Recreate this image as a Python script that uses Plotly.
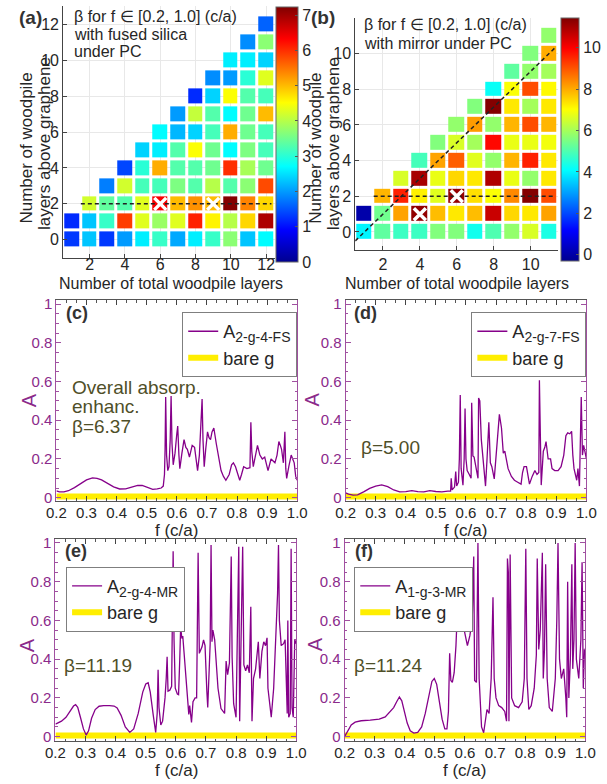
import plotly.graph_objects as go

W, H = 607, 784

# ---------------- data ----------------
# (a) beta, fused silica under PC: one list per number of total woodpile layers (1..12),
#     entry i = number of woodpile layers above graphene (0..N)
total_fs = list(range(1, 13))
beta_fs = [
    [1.3, 1.2],
    [2.3, 2.3, 4.2],
    [1.3, 3.1, 3.4, 1.8],
    [2.0, 5.9, 3.3, 4.2, 1.4],
    [2.6, 4.3, 4.3, 3.2, 3.0, 2.4],
    [3.1, 3.8, 6.37, 3.2, 5.1, 2.6, 2.7],
    [2.1, 4.3, 5.0, 3.6, 3.3, 3.3, 2.2, 2.0],
    [2.6, 6.1, 5.3, 3.3, 3.3, 4.5, 2.4, 4.1, 1.2],
    [3.1, 4.6, 5.00, 4.0, 3.5, 3.5, 3.2, 3.3, 2.4, 1.9],
    [3.7, 4.0, 7.2, 3.3, 6.0, 2.7, 5.1, 2.7, 4.5, 2.0, 2.6],
    [2.3, 4.8, 5.4, 3.7, 3.9, 3.6, 3.5, 3.5, 3.3, 3.0, 2.6, 1.9],
    [2.7, 6.9, 4.8, 5.8, 3.5, 3.2, 3.2, 5.0, 3.2, 4.3, 2.4, 3.7, 1.6],
]
# (b) beta, mirror under PC (1..11 total layers)
total_mr = list(range(1, 12))
beta_mr = [
    [4.0, 0.05],
    [5.2, 5.4, 7.9],
    [4.8, 8.1, 9.6, 6.6],
    [4.8, 11.24, 7.2, 11.0, 4.9],
    [5.6, 7.8, 6.7, 6.8, 8.1, 5.6],
    [5.6, 7.3, 11.19, 7.5, 8.9, 6.6, 5.8],
    [4.3, 7.8, 7.4, 7.3, 6.7, 6.0, 8.2, 5.6],
    [5.0, 10.6, 7.0, 10.9, 5.8, 9.9, 5.8, 11.4, 4.2],
    [5.8, 7.5, 8.4, 6.8, 7.9, 6.8, 7.9, 7.3, 7.0, 5.2],
    [6.6, 7.3, 11.4, 5.8, 9.6, 6.8, 9.1, 6.0, 9.1, 5.8, 5.6],
    [4.4, 8.1, 9.1, 7.3, 7.3, 6.9, 7.9, 7.3, 7.1, 6.0, 8.0, 5.8],
]
marked_fs_total = [6, 9]
marked_fs_above = [2, 2]
marked_mr_total = [4, 6]
marked_mr_above = [1, 2]
guide_row = 2
cbar_fs_range = [0, 7.23]
cbar_mr_range = [-0.3, 11.45]
cbar_fs_ticks = [0, 1, 2, 3, 4, 5, 6, 7]
cbar_mr_ticks = [0, 2, 4, 6, 8, 10]
hm_fs_xticks = [2, 4, 6, 8, 10, 12]
hm_fs_yticks = [0, 2, 4, 6, 8, 10, 12]
hm_mr_xticks = [2, 4, 6, 8, 10]
hm_mr_yticks = [0, 2, 4, 6, 8, 10]

freq_ticks = [0.2, 0.3, 0.4, 0.5, 0.6, 0.7, 0.8, 0.9, 1.0]
A_ticks = [0, 0.2, 0.4, 0.6, 0.8, 1.0]
A_tick_text = ["0", "0.2", "0.4", "0.6", "0.8", "1"]

bare_g_f = [0.2, 1.0]
bare_g_A = [0.006, 0.006]

curve_c = [(0.200,0.035),(0.210,0.030),(0.225,0.030),(0.240,0.036),(0.260,0.052),(0.280,0.072),(0.300,0.092),(0.320,0.102),(0.335,0.100),(0.350,0.092),(0.370,0.073),(0.390,0.056),(0.410,0.045),(0.430,0.046),(0.450,0.055),(0.470,0.064),(0.485,0.063),(0.500,0.055),(0.520,0.043),(0.535,0.045),(0.548,0.050),(0.555,0.060),(0.559,0.120),(0.561,0.250),(0.563,0.520),(0.566,0.220),(0.570,0.140),(0.574,0.160),(0.578,0.300),(0.581,0.525),(0.584,0.280),(0.588,0.170),(0.594,0.230),(0.600,0.330),(0.603,0.370),(0.607,0.220),(0.610,0.150),(0.617,0.230),(0.624,0.300),(0.630,0.260),(0.635,0.250),(0.642,0.210),(0.651,0.270),(0.659,0.260),(0.664,0.200),(0.669,0.140),(0.675,0.220),(0.680,0.350),(0.684,0.510),(0.687,0.300),(0.691,0.160),(0.696,0.250),(0.702,0.340),(0.707,0.310),(0.712,0.300),(0.717,0.340),(0.723,0.360),(0.731,0.280),(0.740,0.190),(0.747,0.140),(0.755,0.110),(0.763,0.090),(0.774,0.120),(0.782,0.170),(0.788,0.180),(0.795,0.160),(0.803,0.120),(0.809,0.090),(0.815,0.120),(0.822,0.160),(0.833,0.150),(0.843,0.155),(0.846,0.390),(0.849,0.240),(0.854,0.160),(0.861,0.220),(0.868,0.270),(0.876,0.220),(0.884,0.200),(0.892,0.210),(0.898,0.170),(0.903,0.140),(0.913,0.200),(0.920,0.190),(0.926,0.180),(0.933,0.220),(0.939,0.290),(0.944,0.270),(0.948,0.250),(0.954,0.180),(0.959,0.340),(0.962,0.150),(0.965,0.100),(0.972,0.160),(0.980,0.220),(0.985,0.200),(0.990,0.180),(0.995,0.110),(1.000,0.090)]

curve_d = [(0.200,0.025),(0.210,0.018),(0.225,0.013),(0.240,0.015),(0.260,0.030),(0.280,0.048),(0.300,0.060),(0.320,0.066),(0.340,0.057),(0.360,0.040),(0.380,0.030),(0.400,0.031),(0.420,0.036),(0.440,0.031),(0.460,0.030),(0.480,0.036),(0.500,0.032),(0.520,0.030),(0.540,0.034),(0.549,0.034),(0.551,0.100),(0.554,0.040),(0.562,0.055),(0.566,0.135),(0.569,0.060),(0.575,0.080),(0.578,0.200),(0.581,0.530),(0.584,0.150),(0.590,0.065),(0.594,0.200),(0.597,0.460),(0.600,0.200),(0.604,0.140),(0.611,0.120),(0.617,0.100),(0.619,0.490),(0.623,0.216),(0.627,0.210),(0.634,0.150),(0.640,0.100),(0.642,0.515),(0.646,0.500),(0.651,0.300),(0.659,0.140),(0.665,0.060),(0.670,0.200),(0.676,0.390),(0.681,0.180),(0.686,0.160),(0.694,0.097),(0.702,0.250),(0.707,0.380),(0.711,0.430),(0.718,0.360),(0.724,0.230),(0.729,0.240),(0.734,0.200),(0.740,0.150),(0.751,0.110),(0.761,0.090),(0.772,0.080),(0.783,0.070),(0.788,0.130),(0.793,0.160),(0.801,0.160),(0.807,0.115),(0.811,0.070),(0.820,0.110),(0.829,0.140),(0.836,0.120),(0.842,0.130),(0.844,0.607),(0.847,0.200),(0.850,0.065),(0.857,0.240),(0.862,0.260),(0.866,0.290),(0.873,0.200),(0.881,0.200),(0.886,0.150),(0.895,0.140),(0.906,0.140),(0.916,0.160),(0.925,0.220),(0.932,0.320),(0.938,0.335),(0.945,0.330),(0.951,0.343),(0.955,0.220),(0.959,0.150),(0.968,0.090),(0.972,0.150),(0.977,0.060),(0.983,0.520),(0.987,0.220),(0.991,0.270),(0.995,0.240),(1.000,0.200)]

curve_e = [(0.200,0.065),(0.210,0.072),(0.220,0.080),(0.235,0.100),(0.250,0.135),(0.260,0.158),(0.267,0.165),(0.274,0.152),(0.283,0.100),(0.293,0.040),(0.302,0.008),(0.310,0.030),(0.320,0.095),(0.332,0.140),(0.345,0.157),(0.360,0.160),(0.380,0.160),(0.395,0.158),(0.405,0.148),(0.418,0.110),(0.432,0.050),(0.447,0.022),(0.460,0.040),(0.475,0.120),(0.490,0.230),(0.500,0.272),(0.508,0.278),(0.515,0.230),(0.525,0.110),(0.533,0.022),(0.538,0.120),(0.541,0.345),(0.544,0.150),(0.550,0.060),(0.556,0.080),(0.564,0.200),(0.568,0.300),(0.571,0.413),(0.574,0.235),(0.580,0.240),(0.586,0.260),(0.589,0.600),(0.591,0.957),(0.594,0.500),(0.598,0.250),(0.605,0.220),(0.609,0.217),(0.613,0.400),(0.616,0.566),(0.620,0.507),(0.623,0.520),(0.627,0.440),(0.633,0.300),(0.640,0.150),(0.643,0.115),(0.646,0.160),(0.652,0.073),(0.657,0.180),(0.664,0.200),(0.669,0.200),(0.674,0.950),(0.678,0.430),(0.687,0.464),(0.692,0.500),(0.697,0.470),(0.703,0.235),(0.706,0.150),(0.714,0.480),(0.717,0.990),(0.720,0.490),(0.723,0.550),(0.729,0.500),(0.740,0.250),(0.750,0.145),(0.762,0.120),(0.767,0.390),(0.772,0.320),(0.778,0.380),(0.784,0.930),(0.787,0.410),(0.792,0.170),(0.800,0.100),(0.809,0.980),(0.812,0.080),(0.822,0.980),(0.826,0.370),(0.832,0.340),(0.838,0.370),(0.844,0.330),(0.849,0.670),(0.853,0.080),(0.858,0.300),(0.865,0.350),(0.874,0.490),(0.879,0.300),(0.886,0.440),(0.892,0.490),(0.898,0.470),(0.903,0.510),(0.906,0.250),(0.917,0.100),(0.925,0.250),(0.933,0.550),(0.938,0.740),(0.941,0.990),(0.944,0.600),(0.950,0.470),(0.958,0.480),(0.963,0.500),(0.967,0.200),(0.970,0.120),(0.972,0.600),(0.975,0.100),(0.980,0.120),(0.983,0.970),(0.986,0.150),(0.990,0.100),(0.995,0.500),(1.000,0.480)]

curve_f = [(0.200,0.000),(0.210,0.030),(0.222,0.060),(0.235,0.075),(0.255,0.082),(0.285,0.085),(0.315,0.090),(0.335,0.102),(0.350,0.125),(0.363,0.150),(0.373,0.180),(0.382,0.205),(0.390,0.185),(0.398,0.130),(0.408,0.070),(0.418,0.030),(0.430,0.018),(0.443,0.022),(0.456,0.050),(0.468,0.120),(0.480,0.220),(0.490,0.285),(0.498,0.300),(0.506,0.270),(0.515,0.180),(0.524,0.090),(0.533,0.040),(0.540,0.040),(0.545,0.130),(0.549,0.430),(0.553,0.290),(0.558,0.280),(0.564,0.330),(0.570,0.470),(0.576,0.700),(0.580,0.750),(0.585,0.620),(0.590,0.550),(0.596,0.560),(0.602,0.520),(0.608,0.470),(0.616,0.520),(0.624,0.600),(0.629,0.930),(0.632,0.290),(0.638,0.280),(0.643,1.000),(0.647,0.300),(0.655,0.050),(0.662,0.020),(0.668,0.100),(0.673,0.140),(0.680,0.120),(0.687,0.300),(0.693,0.720),(0.697,0.300),(0.703,0.200),(0.712,0.160),(0.722,0.150),(0.732,0.130),(0.738,0.080),(0.741,0.920),(0.744,0.850),(0.746,0.080),(0.750,0.940),(0.755,0.200),(0.765,0.160),(0.778,0.150),(0.790,0.180),(0.797,0.300),(0.802,0.970),(0.806,0.300),(0.812,0.140),(0.820,0.160),(0.830,0.250),(0.837,0.420),(0.840,0.920),(0.845,0.450),(0.850,0.550),(0.857,0.950),(0.860,0.300),(0.864,0.450),(0.868,0.890),(0.873,0.300),(0.880,0.150),(0.890,0.130),(0.900,0.300),(0.905,0.600),(0.909,1.000),(0.914,0.400),(0.920,0.300),(0.928,0.350),(0.935,0.200),(0.938,0.100),(0.941,0.800),(0.945,0.200),(0.950,0.400),(0.955,0.890),(0.958,0.350),(0.962,0.500),(0.966,1.000),(0.970,0.400),(0.978,0.300),(0.985,0.500),(0.989,0.900),(0.993,0.250),(0.997,0.450),(1.000,0.450)]

panel_info = [
    # (curve, legend subscript, beta text lines)
    (curve_c, "2-g-4-FS", ["Overall absorp.", "enhanc.", "\u03b2=6.37"]),
    (curve_d, "2-g-7-FS", ["\u03b2=5.00"]),
    (curve_e, "2-g-4-MR", ["\u03b2=11.19"]),
    (curve_f, "1-g-3-MR", ["\u03b2=11.24"]),
]

# ---------------- style ----------------
FONT = "Arial, Liberation Sans, sans-serif"
DARK = "#262626"
PURPLE_LINE = "#86008a"
PURPLE_AX = "#a050a0"
PURPLE_TXT = "#8b2a8b"
YELLOW = "#ffee00"
OLIVE = "#4f4f28"
JET = [[0, "#00008f"], [0.125, "#0000ff"], [0.375, "#00ffff"],
       [0.625, "#ffff00"], [0.875, "#ff0000"], [1, "#800000"]]


def dx(a, b):
    return [a / W, b / W]


def dy(top, bottom):
    return [1 - bottom / H, 1 - top / H]


annotations = []


def ann(text, x, y, size=17, color=DARK, bold=False, angle=0, xanchor="center"):
    if bold:
        text = "<b>" + text + "</b>"
    annotations.append(dict(text=text, x=x / W, y=1 - y / H, xref="paper", yref="paper",
                            showarrow=False, textangle=angle, xanchor=xanchor, yanchor="middle",
                            borderpad=0,
                            font=dict(family=FONT, size=size, color=color)))


def grid(cols):
    nmax = max(len(c) for c in cols)
    return [[cols[j][i] if i < len(cols[j]) else None for j in range(len(cols))]
            for i in range(nmax)]


fig = go.Figure()
layout = dict(width=W, height=H, margin=dict(l=0, r=0, t=0, b=0),
              paper_bgcolor="white", plot_bgcolor="white",
              font=dict(family=FONT, color=DARK), showlegend=True)

# ---------------- heatmaps ----------------
hm_specs = [
    (1, total_fs, beta_fs, (marked_fs_total, marked_fs_above), cbar_fs_range, cbar_fs_ticks,
     hm_fs_xticks, hm_fs_yticks, dx(55, 274), dy(1.4, 256), [0.5, 12.5], [-1, 13],
     dict(x=275, top=2, len=255, thick=22), -8),
    (2, total_mr, beta_mr, (marked_mr_total, marked_mr_above), cbar_mr_range, cbar_mr_ticks,
     hm_mr_xticks, hm_mr_yticks, dx(357, 567), dy(13, 248), [0.5, 11.5], [-1, 12],
     dict(x=570, top=13, len=243, thick=18), 0),
]
for (idx, totals, betas, marks, zr, cticks, xt, yt, xdom, ydom, xr, yr, cb,
     xstand) in hm_specs:
    xs = "x" if idx == 1 else f"x{idx}"
    ys = "y" if idx == 1 else f"y{idx}"
    z = grid(betas)
    fig.add_trace(go.Heatmap(
        x=totals, y=list(range(len(z))), z=z, zmin=zr[0], zmax=zr[1],
        colorscale=JET, xgap=3, ygap=3, xaxis=xs, yaxis=ys, hoverongaps=False,
        colorbar=dict(x=cb["x"] / W, xanchor="left", y=1 - cb["top"] / H, yanchor="top",
                      len=cb["len"], lenmode="pixels", thickness=cb["thick"],
                      thicknessmode="pixels", xpad=0, ypad=0, outlinewidth=1,
                      outlinecolor="#666666", tickvals=cticks, ticks="inside", ticklen=3,
                      tickcolor="#555555", tickfont=dict(size=16, color=DARK, family=FONT))))
    # guide lines
    fig.add_trace(go.Scatter(x=[1.5, totals[-1] + 0.3], y=[guide_row, guide_row], mode="lines",
                             line=dict(color="#222222", width=1.5, dash="4px,3px"),
                             xaxis=xs, yaxis=ys, showlegend=False, hoverinfo="skip"))
    if idx == 2:
        diag_x = [0.5, totals[-1] + 0.3]
        fig.add_trace(go.Scatter(x=diag_x, y=[v - 1 for v in diag_x], mode="lines",
                                 line=dict(color="#222222", width=1.5, dash="4px,3px"),
                                 xaxis=xs, yaxis=ys, showlegend=False, hoverinfo="skip"))
    fig.add_trace(go.Scatter(x=marks[0], y=marks[1], mode="markers",
                             marker=dict(symbol="x-thin", size=12,
                                         line=dict(color="white", width=3.5)),
                             xaxis=xs, yaxis=ys, showlegend=False, hoverinfo="skip"))
    axkey = "" if idx == 1 else str(idx)
    layout["xaxis" + axkey] = dict(
        domain=xdom, range=xr, anchor=ys, tickvals=xt,
        ticks="inside", ticklen=4, tickcolor="#444444", showline=True, linecolor="#444444",
        showgrid=True, gridcolor="#e8e8e8", zeroline=False, ticklabelstandoff=xstand,
        tickfont=dict(size=16, color=DARK, family=FONT))
    layout["yaxis" + axkey] = dict(
        domain=ydom, range=yr, anchor=xs, tickvals=yt,
        ticks="inside", ticklen=4, tickcolor="#444444", showline=True, linecolor="#444444",
        showgrid=True, gridcolor="#e8e8e8", zeroline=False,
        tickfont=dict(size=16, color=DARK, family=FONT))

# ---------------- absorption panels ----------------
line_specs = [
    (3, dx(48, 297), dy(299, 502), [-0.015, 1.02]),
    (4, dx(347, 596), dy(299, 502), [-0.015, 1.02]),
    (5, dx(47, 296), dy(541, 746), [-0.025, 1.02]),
    (6, dx(346, 595), dy(541, 746), [-0.025, 1.02]),
]
legend_pos = [
    dict(x=297, y=311, xanchor="right"),
    dict(x=596, y=311, xanchor="right"),
    dict(x=58, y=569, xanchor="left"),
    dict(x=356, y=569, xanchor="left"),
]
for k, ((idx, xdom, ydom, yr), (curve, sub, btxt), lp) in enumerate(
        zip(line_specs, panel_info, legend_pos)):
    xs, ys = f"x{idx}", f"y{idx}"
    lg = "legend" if k == 0 else f"legend{k + 1}"
    fig.add_trace(go.Scatter(x=bare_g_f, y=bare_g_A, mode="lines", name="bare g",
                             line=dict(color=YELLOW, width=6), xaxis=xs, yaxis=ys,
                             legend=lg, legendrank=2))
    fig.add_trace(go.Scatter(x=[p[0] for p in curve], y=[p[1] for p in curve], mode="lines",
                             name="A<sub><span style='font-size:14px'>" + sub + "</span></sub>",
                             line=dict(color=PURPLE_LINE, width=1.3),
                             xaxis=xs, yaxis=ys, legend=lg, legendrank=1))
    layout["xaxis" + str(idx)] = dict(
        domain=xdom, range=[0.2, 1.0], anchor=ys, tickvals=freq_ticks,
        ticktext=[f"{v:.1f}" for v in freq_ticks], ticks="inside", ticklen=5,
        tickcolor="#444444", showline=True, linecolor="#555555", mirror="ticks",
        showgrid=False, zeroline=False, ticklabelstandoff=-2,
        tickfont=dict(size=15, color=DARK, family=FONT),
        minor=dict(tick0=0.2, dtick=0.1 / 3, ticks="inside", ticklen=2.5,
                   tickcolor="#555555", showgrid=False))
    layout["yaxis" + str(idx)] = dict(
        domain=ydom, range=yr, anchor=xs, tickvals=A_ticks, ticktext=A_tick_text,
        ticks="inside", ticklen=5, tickcolor=PURPLE_AX, showline=True, linecolor=PURPLE_AX,
        mirror="ticks", showgrid=False, zeroline=False,
        tickfont=dict(size=15, color=PURPLE_TXT, family=FONT),
        minor=dict(dtick=0.05, ticks="inside", ticklen=2.5, tickcolor=PURPLE_AX,
                   showgrid=False))
    layout[lg] = dict(x=lp["x"] / W, y=1 - lp["y"] / H, xanchor=lp["xanchor"], yanchor="top",
                      bordercolor="#7f7f7f", borderwidth=1, bgcolor="white",
                      font=dict(size=18, color=DARK, family=FONT), itemwidth=30,
                      tracegroupgap=0, traceorder="normal")

# ---------------- text ----------------
ann("(a)", 21, 13, size=19, bold=True, color="#333333")
ann("(b)", 324, 13, size=19, bold=True, color="#333333")
ann("\u03b2 for f \u2208 [0.2, 1.0] (c/a)", 65, 12, size=16, xanchor="left")
ann("with fused silica", 65, 30, size=16, xanchor="left")
ann("under PC", 65, 47, size=16, xanchor="left")
ann("\u03b2 for f \u2208 [0.2, 1.0] (c/a)", 365, 20, size=16, xanchor="left")
ann("with mirror under PC", 365, 39, size=16, xanchor="left")
for cx in (17, 316):
    ann("Number of woodpile", cx, 145, size=17, angle=-90)
    ann("layers above graphene", cx + 18, 140, size=17, angle=-90)
ann("Number of total woodpile layers", 166, 282, size=16)
ann("Number of total woodpile layers", 462, 282, size=16)

for lab, x0, y0 in (("(c)", 69, 312), ("(d)", 368, 312), ("(e)", 68, 553), ("(f)", 366, 553)):
    ann(lab, x0, y0, size=18, bold=True, color="#333333")
for cx, cy in ((20, 400), (312, 400), (17, 648), (315, 648)):
    ann("A", cx, cy, size=20, color=PURPLE_TXT, angle=-90)
for cx, cy in ((172, 532), (471, 532), (172, 775), (470, 775)):
    ann("f (c/a)", cx, cy, size=17)

ann(panel_info[0][2][0], 63, 387, size=19, color=OLIVE, xanchor="left")
ann(panel_info[0][2][1], 63, 407, size=19, color=OLIVE, xanchor="left")
ann(panel_info[0][2][2], 63, 427, size=19, color=OLIVE, xanchor="left")
ann(panel_info[1][2][0], 362, 448, size=19, color=OLIVE, xanchor="left")
ann(panel_info[2][2][0], 55, 669, size=19, color=OLIVE, xanchor="left")
ann(panel_info[3][2][0], 355, 669, size=19, color=OLIVE, xanchor="left")

layout["annotations"] = annotations
fig.update_layout(**layout)
fig.write_html("out.html")
